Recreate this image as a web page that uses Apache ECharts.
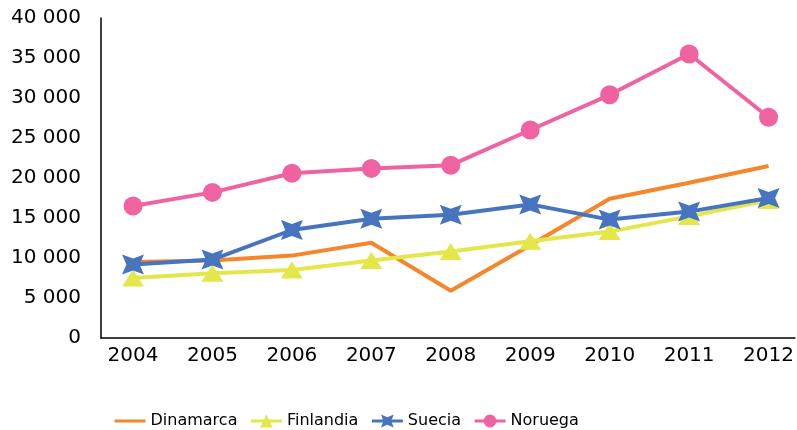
<!DOCTYPE html>
<html>
<head>
<meta charset="utf-8">
<script src="https://cdn.jsdelivr.net/npm/echarts@6/dist/echarts.min.js"></script>
<style>
  html, body { margin: 0; padding: 0; background: #fff; }
  #chart { width: 797px; height: 430px; }
</style>
</head>
<body>
<div id="chart"></div>
<script>
// 年份
var years = ['2004', '2005', '2006', '2007', '2008', '2009', '2010', '2011', '2012'];

// 各国数值
var dinamarca = [9500, 9700, 10300, 11900, 5900, 11600, 17400, 19400, 21500];
var finlandia = [7500, 8100, 8500, 9700, 10800, 12100, 13300, 15200, 17200];
var suecia = [9200, 9800, 13500, 14900, 15400, 16700, 14800, 15800, 17500];
var noruega = [16500, 18200, 20600, 21200, 21600, 26000, 30400, 35500, 27600];

var yTicks = { min: 0, max: 40000, interval: 5000 };

var font = 'DejaVu Sans';
var starPath = 'path://M0,0 L10,4 L20,0 L16,10 L20,20 L10,16 L0,20 L4,10 Z';

function fmt(v) {
  return String(v).replace(/\B(?=(\d{3})+(?!\d))/g, ' ');
}

function lineSeries(name, data, color, symbol, size) {
  return {
    name: name,
    type: 'line',
    xAxisIndex: 1,
    yAxisIndex: 1,
    data: data,
    symbol: symbol,
    symbolSize: size,
    showSymbol: symbol !== 'none',
    lineStyle: { color: color, width: 4 },
    itemStyle: { color: color, opacity: 1 },
    emphasis: { disabled: true },
    z: 2
  };
}

var chart = echarts.init(document.getElementById('chart'));
chart.setOption({
  animation: false,
  textStyle: { fontFamily: font },
  grid: [
    { left: 101, right: 2, top: 18, bottom: 92 },
    { left: 133, right: 22, top: 18, bottom: 92 }
  ],
  legend: {
    left: 108,
    top: 408,
    itemWidth: 31,
    itemHeight: 16,
    itemGap: 12,
    lineStyle: { width: 3 },
    textStyle: { fontFamily: font, fontSize: 16, color: '#000' },
    data: [
      { name: 'Dinamarca', itemStyle: { opacity: 0 } },
      'Finlandia', 'Suecia', 'Noruega'
    ]
  },
  xAxis: [
    {
      type: 'category',
      gridIndex: 0,
      data: [],
      axisLine: { lineStyle: { color: '#000', width: 1.5 } },
      axisTick: { show: false },
      axisLabel: { show: false }
    },
    {
      type: 'category',
      gridIndex: 1,
      boundaryGap: false,
      data: years,
      axisLine: { show: false },
      axisTick: { show: false },
      axisLabel: { color: '#000', fontFamily: font, fontSize: 20, margin: 8 }
    }
  ],
  yAxis: [
    {
      type: 'value',
      gridIndex: 0,
      min: yTicks.min,
      max: yTicks.max,
      interval: yTicks.interval,
      splitLine: { show: false },
      axisLine: { show: true, lineStyle: { color: '#000', width: 1.5 } },
      axisTick: { show: false },
      axisLabel: { color: '#000', fontFamily: font, fontSize: 20, margin: 20, formatter: fmt }
    },
    {
      type: 'value',
      gridIndex: 1,
      min: yTicks.min,
      max: yTicks.max,
      interval: yTicks.interval,
      show: false,
      splitLine: { show: false }
    }
  ],
  series: [
    lineSeries('Dinamarca', dinamarca, '#F5862B', 'none', 0),
    lineSeries('Finlandia', finlandia, '#E4E74A', 'triangle', [22, 17]),
    lineSeries('Suecia', suecia, '#4674BE', starPath, [22, 20]),
    lineSeries('Noruega', noruega, '#EF64A0', 'circle', 19)
  ]
});
</script>
</body>
</html>
